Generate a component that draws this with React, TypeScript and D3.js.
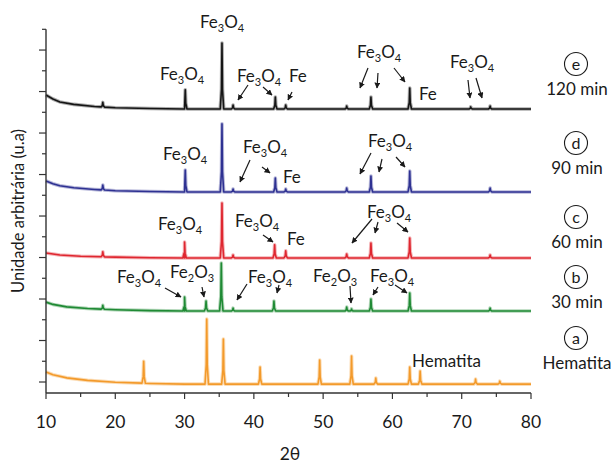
import React from "react";
import * as d3 from "d3";

/* DATA */
const xTickValues = [10, 20, 30, 40, 50, 60, 70, 80];
const seriesLetters = ["a", "b", "c", "d", "e"];
const seriesTimes = ["Hematita", "30 min", "60 min", "90 min", "120 min"];
const seriesColors = ["#f39a2b", "#1f8a34", "#df2730", "#2e3192", "#151515"];
// vertical offset of each pattern (a.u.)
const seriesOffsets = [-10, 342, 598, 916, 1316];

// background level [2θ, intensity]
const bgA = [[10, 58], [11, 45], [13, 30], [16, 18], [20, 9], [25, 3], [30, 0], [80, 0]];
const bgB = [[10, 43], [11, 32], [13, 20], [16, 12], [20, 6], [25, 2], [30, 0], [80, 0]];
const bgC = [[10, 24], [12, 14], [15, 8], [20, 4], [25, 1], [30, 0], [80, 0]];
const bgD = [[10, 53], [11, 40], [12, 30], [14, 20], [17, 12], [20, 6], [25, 2], [30, 0], [80, 0]];
const bgE = [[10, 67], [11, 48], [12, 34], [14, 22], [17, 12], [20, 6], [25, 2], [30, 0], [80, 0]];

// peaks [2θ, height]
const peaksA = [[24.1, 106], [33.2, 313], [35.6, 217], [40.9, 82], [49.5, 116], [54.1, 135], [57.6, 29], [62.5, 82], [64.0, 63], [72.0, 24], [75.5, 14]];
const peaksB = [[18.2, 19], [30.0, 67], [33.1, 48], [35.3, 231], [37.0, 14], [42.9, 48], [53.4, 19], [54.1, 10], [56.9, 58], [62.5, 87], [74.1, 14]];
const peaksC = [[18.2, 24], [30.0, 77], [35.4, 265], [37.0, 14], [43.0, 63], [44.6, 34], [53.4, 19], [56.9, 72], [62.5, 96], [74.1, 14]];
const peaksD = [[18.2, 24], [30.1, 106], [35.4, 328], [37.0, 14], [43.1, 67], [44.6, 14], [53.4, 19], [56.9, 77], [62.5, 101], [74.1, 19]];
const peaksE = [[18.2, 22], [30.1, 92], [35.4, 318], [37.0, 19], [43.1, 58], [44.6, 19], [53.4, 14], [56.9, 58], [62.5, 101], [71.3, 10], [74.1, 14]];

const backgrounds = [bgA, bgB, bgC, bgD, bgE];
const peakLists = [peaksA, peaksB, peaksC, peaksD, peaksE];

// annotations (layout, px)
const labels = [
  // e
  { t: "Fe3O4", x: 200, y: 28 },
  { t: "Fe3O4", x: 160, y: 80 },
  { t: "Fe3O4", x: 237, y: 82 },
  { t: "Fe", x: 289, y: 82 },
  { t: "Fe3O4", x: 357, y: 58 },
  { t: "Fe", x: 419, y: 100 },
  { t: "Fe3O4", x: 450, y: 68 },
  // d
  { t: "Fe3O4", x: 163, y: 160 },
  { t: "Fe3O4", x: 243, y: 153 },
  { t: "Fe", x: 283, y: 183 },
  { t: "Fe3O4", x: 368, y: 147 },
  // c
  { t: "Fe3O4", x: 158, y: 230 },
  { t: "Fe3O4", x: 235, y: 227 },
  { t: "Fe", x: 287, y: 245 },
  { t: "Fe3O4", x: 367, y: 218 },
  // b
  { t: "Fe3O4", x: 117, y: 283 },
  { t: "Fe2O3", x: 170, y: 278 },
  { t: "Fe3O4", x: 248, y: 283 },
  { t: "Fe2O3", x: 313, y: 282 },
  { t: "Fe3O4", x: 370, y: 282 },
  // a
  { t: "Hematita", x: 412, y: 367 },
];

const arrows = [
  // e
  [248, 85, 238, 100], [263, 87, 272, 95], [292, 92, 288, 100],
  [368, 68, 360, 88], [378, 73, 377, 88], [394, 68, 405, 82],
  [468, 80, 470, 98], [476, 78, 482, 98],
  // d
  [250, 160, 240, 182], [262, 167, 270, 173],
  [371, 153, 360, 174], [382, 159, 379, 172], [396, 157, 405, 167],
  // c
  [263, 235, 273, 242],
  [372, 219, 352, 243], [378, 222, 375, 233], [397, 223, 408, 232],
  // b
  [165, 288, 181, 297], [202, 287, 204, 297], [247, 284, 237, 300], [279, 285, 277, 293],
  [350, 286, 351, 303], [378, 287, 373, 295], [395, 285, 407, 293],
];

const sideY = [338, 277, 217, 143, 64];

const FONT = "Lato, 'Open Sans', sans-serif";

function Formula({ t, x, y }: { t: string; x: number; y: number }) {
  const parts = t.split(/(\d+)/).filter((p) => p.length > 0);
  let sub = false;
  return (
    <text x={x} y={y} fontSize={17} fill="#1a1a1a" fontFamily={FONT}>
      {parts.map((p, i) => {
        const isDigit = /^\d+$/.test(p);
        let dy = 0;
        if (isDigit && !sub) dy = 4;
        if (!isDigit && sub) dy = -4;
        sub = isDigit;
        return (
          <tspan key={i} dy={dy} fontSize={isDigit ? 11 : 17}>
            {p}
          </tspan>
        );
      })}
    </text>
  );
}

function buildProfile(bg: number[][], peaks: number[][]) {
  const level = (x: number) => {
    for (let i = 0; i < bg.length - 1; i++) {
      if (x >= bg[i][0] && x <= bg[i + 1][0]) {
        const f = (x - bg[i][0]) / (bg[i + 1][0] - bg[i][0]);
        return bg[i][1] + f * (bg[i + 1][1] - bg[i][1]);
      }
    }
    return 0;
  };
  const pts: [number, number][] = bg.map((d) => [d[0], d[1]] as [number, number]);
  peaks.forEach(([p, h]) => {
    pts.push([p - 0.25, level(p - 0.25)]);
    pts.push([p - 0.07, level(p) + h * 0.3]);
    pts.push([p, level(p) + h]);
    pts.push([p + 0.07, level(p) + h * 0.3]);
    pts.push([p + 0.25, level(p + 0.25)]);
  });
  pts.sort((a, b) => a[0] - b[0]);
  return pts;
}

export default function App() {
  const W = 614;
  const H = 463;
  const x = d3.scaleLinear().domain([10, 80]).range([46, 531]);
  const y = d3.scaleLinear().domain([-53, 1700]).range([393, 29.3]);

  const xMinor = d3.range(15, 80, 10);
  const yTicks = d3.range(0, 1701, 100);

  const line = d3
    .line<[number, number]>()
    .x((d) => x(d[0]))
    .y((d) => d[1]);

  const axisColor = "#333";

  return (
    <div style={{ position: "absolute", left: 0, top: 0 }}>
      <svg width={W} height={H} style={{ display: "block", background: "#fff" }}>
        <defs>
          <marker
            id="arr"
            viewBox="0 0 10 10"
            refX="9"
            refY="5"
            markerWidth="6"
            markerHeight="6"
            markerUnits="userSpaceOnUse"
            orient="auto"
          >
            <path d="M0,0 L10,5 L0,10 z" fill="#1a1a1a" />
          </marker>
        </defs>

        {/* traces */}
        {peakLists.map((pk, i) => {
          const pts = buildProfile(backgrounds[i], pk).map(
            (d) => [d[0], y(seriesOffsets[i] + d[1])] as [number, number]
          );
          const d = line(pts) || "";
          return (
            <g key={i}>
              <path
                d={d}
                fill="none"
                stroke={seriesColors[i]}
                strokeOpacity={0.35}
                strokeWidth={3.6}
                strokeLinejoin="round"
              />
              <path
                d={d}
                fill="none"
                stroke={seriesColors[i]}
                strokeWidth={1.6}
                strokeLinejoin="round"
              />
            </g>
          );
        })}

        {/* axes */}
        <line x1={46} x2={46} y1={y(1700)} y2={393} stroke={axisColor} strokeWidth={1.4} />
        <line x1={46} x2={531} y1={393} y2={393} stroke={axisColor} strokeWidth={1.4} />
        {yTicks.map((v) => (
          <line
            key={v}
            x1={46}
            x2={v % 200 === 0 ? 39 : 42}
            y1={y(v)}
            y2={y(v)}
            stroke={axisColor}
            strokeWidth={1.2}
          />
        ))}
        {xTickValues.map((v) => (
          <g key={v}>
            <line x1={x(v)} x2={x(v)} y1={393} y2={399} stroke={axisColor} strokeWidth={1.2} />
            <text
              x={x(v)}
              y={428}
              textAnchor="middle"
              fontSize={17.5}
              fontFamily={FONT}
              fill="#1a1a1a"
            >
              {v}
            </text>
          </g>
        ))}
        {xMinor.map((v) => (
          <line key={v} x1={x(v)} x2={x(v)} y1={393} y2={397} stroke={axisColor} strokeWidth={1.2} />
        ))}

        <text x={290} y={460} textAnchor="middle" fontSize={17.5} fontFamily={FONT} fill="#1a1a1a">
          2θ
        </text>
        <text
          transform="translate(24,211) rotate(-90)"
          textAnchor="middle"
          fontSize={16.5}
          fontFamily={FONT}
          fill="#1a1a1a"
        >
          Unidade arbitrária (u.a)
        </text>

        {/* annotations */}
        {labels.map((l, i) => (
          <Formula key={i} t={l.t} x={l.x} y={l.y} />
        ))}
        {arrows.map((a, i) => (
          <line
            key={i}
            x1={a[0]}
            y1={a[1]}
            x2={a[2]}
            y2={a[3]}
            stroke="#1a1a1a"
            strokeWidth={1.2}
            markerEnd="url(#arr)"
          />
        ))}

        {/* side labels */}
        {seriesLetters.map((s, i) => (
          <g key={s}>
            <circle cx={576} cy={sideY[i]} r={11.5} fill="none" stroke="#1a1a1a" strokeWidth={1.1} />
            <text
              x={576}
              y={sideY[i] + 5.5}
              textAnchor="middle"
              fontSize={16}
              fontFamily={FONT}
              fill="#1a1a1a"
            >
              {s}
            </text>
            <text
              x={577}
              y={sideY[i] + 31}
              textAnchor="middle"
              fontSize={17}
              fontFamily={FONT}
              fill="#1a1a1a"
            >
              {seriesTimes[i]}
            </text>
          </g>
        ))}
      </svg>
    </div>
  );
}
